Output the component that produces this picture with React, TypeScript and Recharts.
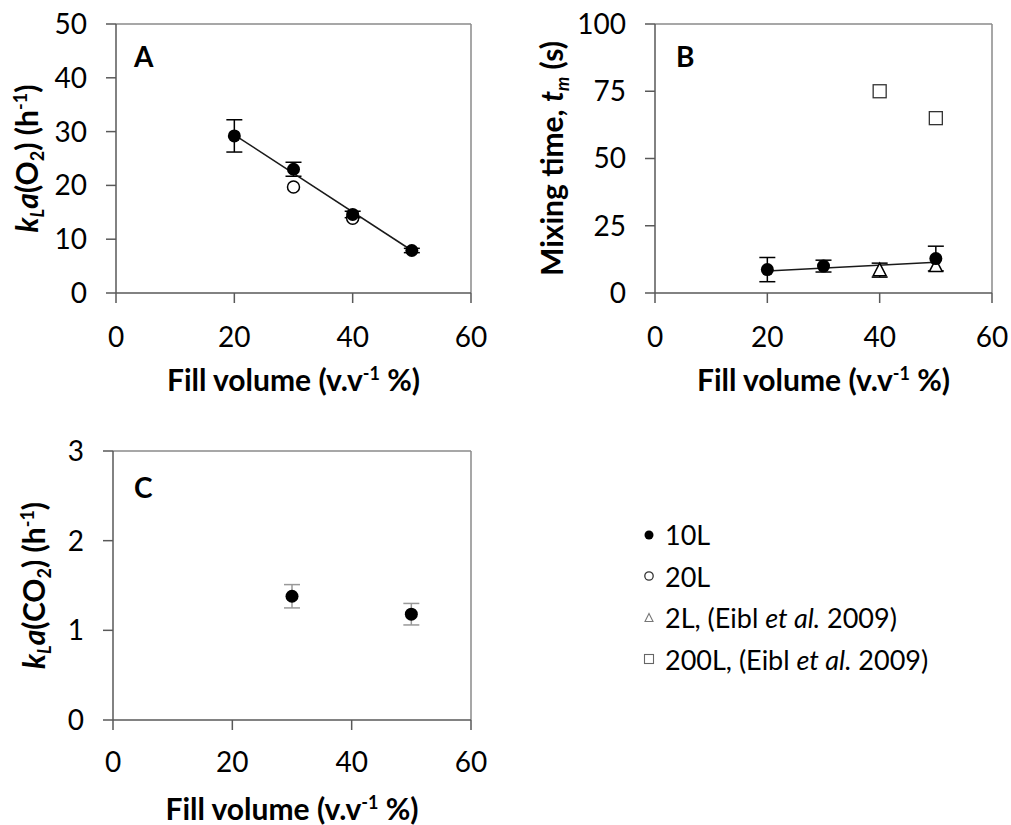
import { ScatterChart, Scatter, XAxis, YAxis, ErrorBar, ReferenceLine, Legend, Customized } from "recharts";

const FONT = "Lato, 'Open Sans', sans-serif";
const AXIS = "#595959";
const FRAME = "#8a8a8a";

// tick labels
const xTicks = [0, 20, 40, 60];
const kLaO2Ticks = [0, 10, 20, 30, 40, 50];
const mixTicks = [0, 25, 50, 75, 100];
const kLaCO2Ticks = [0, 1, 2, 3];

// panel A: kLa(O2) vs fill volume
const kLaO2_10L = [
  { x: 20, y: 29.2, err: 3.0 },
  { x: 30, y: 23.0, err: 1.3 },
  { x: 40, y: 14.6, err: 0.6 },
  { x: 50, y: 7.9, err: 0.4 },
];
const kLaO2_20L = [
  { x: 30, y: 19.7 },
  { x: 40, y: 13.9 },
];
const kLaO2Fit = [
  { x: 20, y: 29.4 },
  { x: 50, y: 7.9 },
];

// panel B: mixing time
const mix10L = [
  { x: 20, y: 8.7, err: 4.5 },
  { x: 30, y: 10.0, err: 2.2 },
  { x: 50, y: 12.8, err: 4.6 },
];
const mix2L = [
  { x: 40, y: 8.5, err: 2.6 },
  { x: 50, y: 10.0 },
];
const mix200L = [
  { x: 40, y: 75 },
  { x: 50, y: 65 },
];
const mixFit = [
  { x: 20, y: 8.2 },
  { x: 50, y: 11.4 },
];

// panel C: kLa(CO2)
const kLaCO2_10L = [
  { x: 30, y: 1.38, err: 0.13 },
  { x: 50, y: 1.18, err: 0.12 },
];

const legendItems = ["10L", "20L", "2L", "200L"];

const dotFilled = (p: any) => <circle cx={p.cx} cy={p.cy} r={6.5} fill="#000" />;
const dotOpen = (p: any) => (
  <circle cx={p.cx} cy={p.cy} r={6} fill="#fff" stroke="#000" strokeWidth={1.5} />
);
const triangle = (p: any) => (
  <path
    d={`M${p.cx},${p.cy - 7} L${p.cx + 6.5},${p.cy + 5.5} L${p.cx - 6.5},${p.cy + 5.5} Z`}
    fill="#fff"
    stroke="#000"
    strokeWidth={1.5}
  />
);
const square = (p: any) => (
  <rect x={p.cx - 6.5} y={p.cy - 6.5} width={13} height={13} fill="#fff" stroke="#333" strokeWidth={1.3} />
);
const noShape = () => <g />;

const tickStyle = { fill: "#000", fontSize: 28, fontFamily: FONT };
const TITLE = 30;
const SMALL = 18;

const fillVolumeTitle = (offset: number) => (props: any) => {
  const { x, y, width } = props.viewBox;
  return (
    <text x={x + width / 2} y={y + offset} textAnchor="middle" fontFamily={FONT} fontWeight="bold" fontSize={TITLE} fill="#000">
      Fill volume (v.v
      <tspan dy={-11} fontSize={SMALL}>-1</tspan>
      <tspan dy={11}> %)</tspan>
    </text>
  );
};

const yTitle = (cxOff: number, parts: () => any) => (props: any) => {
  const { x, y, height } = props.viewBox;
  const cx = x + cxOff + 10;
  const cy = y + height / 2;
  return (
    <text
      x={cx}
      y={cy}
      transform={`rotate(-90 ${cx} ${cy})`}
      textAnchor="middle"
      fontFamily={FONT}
      fontWeight="bold"
      fontSize={TITLE}
      fill="#000"
    >
      {parts()}
    </text>
  );
};

const kLaParts = (gas: string) => () => (
  <>
    <tspan fontStyle="italic">k</tspan>
    <tspan fontStyle="italic" fontSize={SMALL} dy={6}>L</tspan>
    <tspan fontStyle="italic" dy={-6}>a</tspan>
    <tspan>({gas}</tspan>
    <tspan fontSize={SMALL} dy={6}>2</tspan>
    <tspan dy={-6}>) (h</tspan>
    <tspan fontSize={SMALL} dy={-11}>-1</tspan>
    <tspan dy={11}>)</tspan>
  </>
);

const mixParts = () => (
  <>
    <tspan>Mixing time, </tspan>
    <tspan fontStyle="italic">t</tspan>
    <tspan fontStyle="italic" fontSize={SMALL} dy={6}>m</tspan>
    <tspan dy={-6}> (s)</tspan>
  </>
);

const PanelTag = ({ text, x, y }: { text: string; x: number; y: number }) => (
  <text x={x} y={y} fontFamily={FONT} fontWeight="bold" fontSize={28} fill="#000">
    {text}
  </text>
);

const LegendMarker = ({ kind }: { kind: string }) => {
  if (kind === "10L") return <circle cx={7} cy={7} r={4.5} fill="#000" />;
  if (kind === "20L") return <circle cx={7} cy={7} r={4.2} fill="#fff" stroke="#333" strokeWidth={1.3} />;
  if (kind === "2L") return <path d="M7,2.5 L11,10.5 L3,10.5 Z" fill="#fff" stroke="#777" strokeWidth={1.1} />;
  return <rect x={2.5} y={2.5} width={9} height={9} fill="#fff" stroke="#666" strokeWidth={1.1} />;
};

const LegendBox = () => (
  <div style={{ fontFamily: FONT, fontSize: 27, color: "#000" }}>
    {legendItems.map((name) => (
      <div key={name} style={{ display: "flex", alignItems: "center", height: 41.5 }}>
        <svg width={14} height={14} style={{ marginRight: 9, flexShrink: 0 }}>
          <LegendMarker kind={name} />
        </svg>
        {name === "10L" || name === "20L" ? (
          <span>{name}</span>
        ) : (
          <span>
            {name}, (Eibl <i>et al.</i> 2009)
          </span>
        )}
      </div>
    ))}
  </div>
);

export default function App() {
  return (
    <div style={{ position: "absolute", left: 0, top: 0, width: 1011, height: 825, background: "#fff" }}>
      <div style={{ position: "absolute", left: 0, top: 0 }}>
        <ScatterChart width={500} height={400} margin={{ top: 24, right: 29, bottom: 0, left: 0 }}>
          <XAxis
            type="number"
            dataKey="x"
            domain={[0, 60]}
            ticks={xTicks}
            tickSize={10}
            tickMargin={24}
            stroke={AXIS}
            strokeWidth={1.5}
            tick={tickStyle}
            height={107}
            label={{ content: fillVolumeTitle(98) }}
          />
          <YAxis
            type="number"
            dataKey="y"
            domain={[0, 50]}
            ticks={kLaO2Ticks}
            tickSize={10}
            tickMargin={19}
            stroke={AXIS}
            strokeWidth={1.5}
            tick={tickStyle}
            width={116}
            label={{ content: yTitle(28, kLaParts("O")) }}
          />
          <ReferenceLine y={50} stroke={FRAME} strokeWidth={1.5} />
          <ReferenceLine x={60} stroke={FRAME} strokeWidth={1.5} />
          <Scatter data={kLaO2Fit} line={{ stroke: "#1a1a1a", strokeWidth: 1.5 }} shape={noShape} legendType="none" isAnimationActive={false} />
          <Scatter data={kLaO2_20L} shape={dotOpen} isAnimationActive={false} />
          <Scatter data={kLaO2_10L} shape={dotFilled} isAnimationActive={false}>
            <ErrorBar dataKey="err" direction="y" width={8} stroke="#000" strokeWidth={1.5} />
          </Scatter>
          <Customized component={<PanelTag text="A" x={134} y={67} />} />
        </ScatterChart>
      </div>

      <div style={{ position: "absolute", left: 510, top: 0 }}>
        <ScatterChart width={501} height={400} margin={{ top: 24, right: 19, bottom: 0, left: 0 }}>
          <XAxis
            type="number"
            dataKey="x"
            domain={[0, 60]}
            ticks={xTicks}
            tickSize={10}
            tickMargin={24}
            stroke={AXIS}
            strokeWidth={1.5}
            tick={tickStyle}
            height={107}
            label={{ content: fillVolumeTitle(98) }}
          />
          <YAxis
            type="number"
            dataKey="y"
            domain={[0, 100]}
            ticks={mixTicks}
            tickSize={10}
            tickMargin={19}
            stroke={AXIS}
            strokeWidth={1.5}
            tick={tickStyle}
            width={145}
            label={{ content: yTitle(43, mixParts) }}
          />
          <ReferenceLine y={100} stroke={FRAME} strokeWidth={1.5} />
          <ReferenceLine x={60} stroke={FRAME} strokeWidth={1.5} />
          <Scatter data={mixFit} line={{ stroke: "#1a1a1a", strokeWidth: 1.5 }} shape={noShape} legendType="none" isAnimationActive={false} />
          <Scatter data={mix200L} shape={square} isAnimationActive={false} />
          <Scatter data={mix2L} shape={triangle} isAnimationActive={false}>
            <ErrorBar dataKey="err" direction="y" width={8} stroke="#000" strokeWidth={1.5} />
          </Scatter>
          <Scatter data={mix10L} shape={dotFilled} isAnimationActive={false}>
            <ErrorBar dataKey="err" direction="y" width={8} stroke="#000" strokeWidth={1.5} />
          </Scatter>
          <Customized component={<PanelTag text="B" x={166} y={67} />} />
        </ScatterChart>
      </div>

      <div style={{ position: "absolute", left: 0, top: 420 }}>
        <ScatterChart width={1011} height={405} margin={{ top: 31, right: 540, bottom: 0, left: 0 }}>
          <XAxis
            type="number"
            dataKey="x"
            domain={[0, 60]}
            ticks={xTicks}
            tickSize={10}
            tickMargin={22}
            stroke={AXIS}
            strokeWidth={1.5}
            tick={tickStyle}
            height={105}
            label={{ content: fillVolumeTitle(100) }}
          />
          <YAxis
            type="number"
            dataKey="y"
            domain={[0, 3]}
            ticks={kLaCO2Ticks}
            tickSize={10}
            tickMargin={19}
            stroke={AXIS}
            strokeWidth={1.5}
            tick={tickStyle}
            width={113}
            label={{ content: yTitle(35, kLaParts("CO")) }}
          />
          <ReferenceLine y={3} stroke={FRAME} strokeWidth={1.5} />
          <ReferenceLine x={60} stroke={FRAME} strokeWidth={1.5} />
          <Scatter data={kLaCO2_10L} shape={dotFilled} isAnimationActive={false}>
            <ErrorBar dataKey="err" direction="y" width={8} stroke="#999" strokeWidth={1.5} />
          </Scatter>
          <Customized component={<PanelTag text="C" x={134} y={78} />} />
          <Legend
            layout="horizontal"
            verticalAlign="middle"
            align="center"
            content={() => <LegendBox />}
            wrapperStyle={{ position: "absolute", left: 642, top: 94, width: 369 }}
          />
        </ScatterChart>
      </div>
    </div>
  );
}
